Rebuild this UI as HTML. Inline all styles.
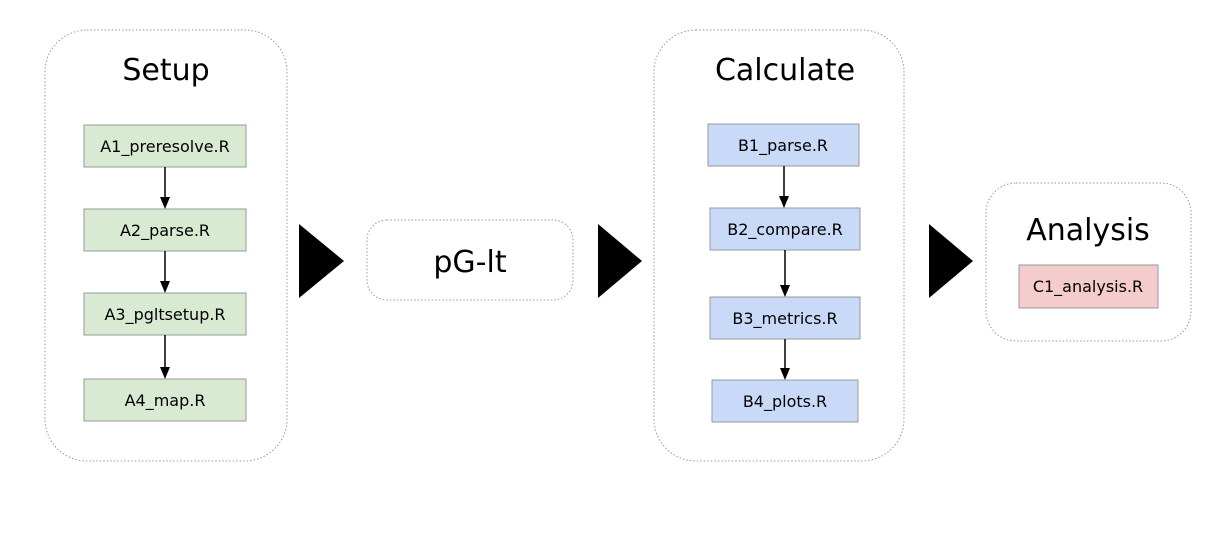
<!DOCTYPE html>
<html><head><meta charset="utf-8"><style>
html,body{margin:0;padding:0;background:#fff;}
svg{display:block;font-family:"DejaVu Sans","Liberation Sans",sans-serif;}
</style></head><body>
<svg width="1228" height="533" viewBox="0 0 1228 533">
<g>
<rect x="45" y="30" width="242" height="431" rx="42" fill="#fff" stroke="#999" stroke-width="1" stroke-dasharray="1.5,2"/>
<text x="166" y="80" font-size="30" text-anchor="middle">Setup</text>
<g><rect x="84" y="125" width="162" height="42" fill="#d9ead3" stroke="#999"/><text x="165" y="152" font-size="16" text-anchor="middle">A1_preresolve.R</text></g>
<g><rect x="84" y="209" width="162" height="42" fill="#d9ead3" stroke="#999"/><text x="165" y="236" font-size="16" text-anchor="middle">A2_parse.R</text></g>
<g><rect x="84" y="293" width="162" height="42" fill="#d9ead3" stroke="#999"/><text x="165" y="320" font-size="16" text-anchor="middle">A3_pgltsetup.R</text></g>
<g><rect x="84" y="379" width="162" height="42" fill="#d9ead3" stroke="#999"/><text x="165" y="406" font-size="16" text-anchor="middle">A4_map.R</text></g>
<g><line x1="165" y1="167" x2="165" y2="198" stroke="#000" stroke-width="1.5"/><polygon points="160,197 170,197 165,209" fill="#000"/></g>
<g><line x1="165" y1="251" x2="165" y2="282" stroke="#000" stroke-width="1.5"/><polygon points="160,281 170,281 165,293" fill="#000"/></g>
<g><line x1="165" y1="335" x2="165" y2="368" stroke="#000" stroke-width="1.5"/><polygon points="160,367 170,367 165,379" fill="#000"/></g>
</g>
<polygon points="299,224 344,261 299,298" fill="#000"/>
<g>
<rect x="367" y="220" width="206" height="80" rx="20" fill="#fff" stroke="#999" stroke-dasharray="1.5,2"/>
<text x="470" y="272" font-size="30" text-anchor="middle">pG-lt</text>
</g>
<polygon points="598,224 642,261 598,298" fill="#000"/>
<g>
<rect x="654" y="30" width="250" height="431" rx="42" fill="#fff" stroke="#999" stroke-dasharray="1.5,2"/>
<text x="785" y="80" font-size="30" text-anchor="middle">Calculate</text>
<g><rect x="708" y="124" width="151" height="42" fill="#c9daf8" stroke="#999"/><text x="783" y="151" font-size="16" text-anchor="middle">B1_parse.R</text></g>
<g><rect x="710" y="208" width="150" height="42" fill="#c9daf8" stroke="#999"/><text x="785" y="235" font-size="16" text-anchor="middle">B2_compare.R</text></g>
<g><rect x="710" y="297" width="150" height="42" fill="#c9daf8" stroke="#999"/><text x="785" y="324" font-size="16" text-anchor="middle">B3_metrics.R</text></g>
<g><rect x="712" y="380" width="146" height="42" fill="#c9daf8" stroke="#999"/><text x="785" y="407" font-size="16" text-anchor="middle">B4_plots.R</text></g>
<g><line x1="784" y1="166" x2="784" y2="197" stroke="#000" stroke-width="1.5"/><polygon points="779,196 789,196 784,208" fill="#000"/></g>
<g><line x1="785" y1="250" x2="785" y2="286" stroke="#000" stroke-width="1.5"/><polygon points="780,285 790,285 785,297" fill="#000"/></g>
<g><line x1="785" y1="339" x2="785" y2="369" stroke="#000" stroke-width="1.5"/><polygon points="780,368 790,368 785,380" fill="#000"/></g>
</g>
<polygon points="929,224 973,261 929,298" fill="#000"/>
<g>
<rect x="986" y="183" width="205" height="158" rx="30" fill="#fff" stroke="#999" stroke-dasharray="1.5,2"/>
<text x="1088" y="240" font-size="30" text-anchor="middle">Analysis</text>
<g><rect x="1019" y="265" width="139" height="43" fill="#f4cccc" stroke="#999"/><text x="1088" y="292" font-size="16" text-anchor="middle">C1_analysis.R</text></g>
</g>
</svg>
</body></html>
